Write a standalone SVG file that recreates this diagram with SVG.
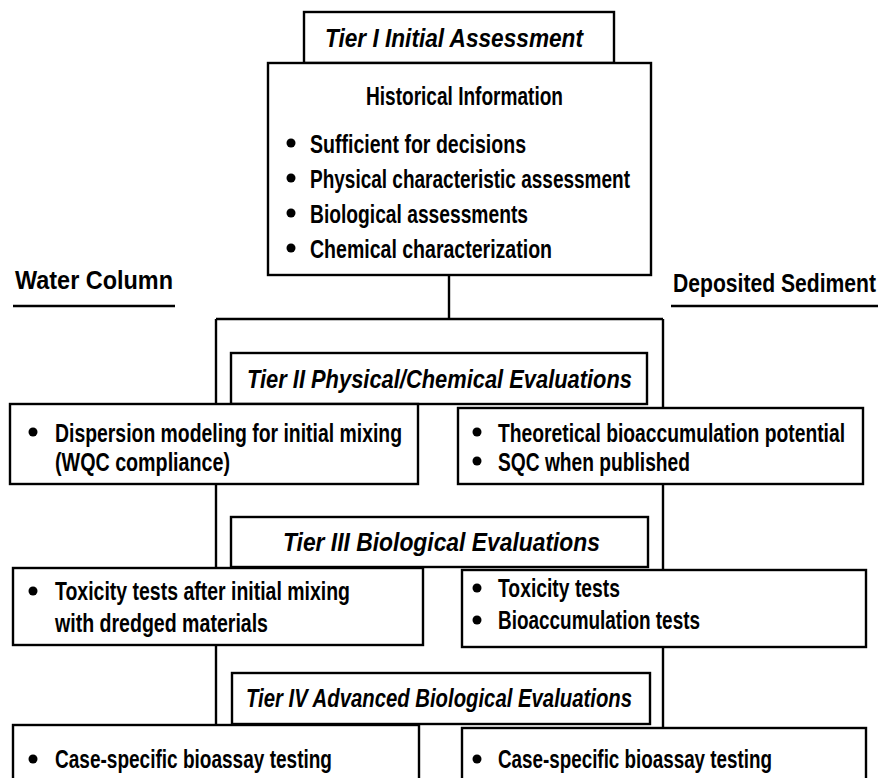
<svg xmlns="http://www.w3.org/2000/svg" width="881" height="778" viewBox="0 0 881 778">
  <style>
    .box { fill: #ffffff; stroke: #000000; stroke-width: 2.4; }
    .wire { fill: none; stroke: #000000; stroke-width: 2.4; }
    .t { font-family: "Liberation Sans", Arial, sans-serif; font-weight: bold; font-size: 25px; fill: #000000; }
    .h { font-style: italic; }
    .dot { fill: #000000; }
  </style>
  <rect width="881" height="778" fill="#ffffff"/>

  <!-- connectors -->
  <g id="connectors">
    <line class="wire" x1="449" y1="275" x2="449" y2="319"/>
    <line class="wire" x1="216" y1="319" x2="663" y2="319"/>
    <line class="wire" x1="216" y1="319" x2="216" y2="404"/>
    <line class="wire" x1="663" y1="319" x2="663" y2="408"/>
    <line class="wire" x1="216" y1="484" x2="216" y2="568"/>
    <line class="wire" x1="663" y1="484" x2="663" y2="570"/>
    <line class="wire" x1="216" y1="645" x2="216" y2="725"/>
    <line class="wire" x1="663" y1="647" x2="663" y2="728"/>
  </g>

  <!-- column labels -->
  <g id="label-water">
    <text class="t" x="15" y="289" textLength="158" lengthAdjust="spacingAndGlyphs">Water Column</text>
    <line class="wire" x1="13" y1="306" x2="175" y2="306"/>
  </g>
  <g id="label-sediment">
    <text class="t" x="673" y="292" textLength="203" lengthAdjust="spacingAndGlyphs">Deposited Sediment</text>
    <line class="wire" x1="671" y1="306" x2="878" y2="306"/>
  </g>

  <!-- Tier I -->
  <g id="tier1">
    <rect class="box" x="304" y="12" width="310" height="51"/>
    <text class="t h" x="325" y="47" textLength="258" lengthAdjust="spacingAndGlyphs">Tier I Initial Assessment</text>
  </g>
  <g id="historical">
    <rect class="box" x="268" y="63" width="383" height="212"/>
    <text class="t" x="366" y="105" textLength="197" lengthAdjust="spacingAndGlyphs">Historical Information</text>
    <circle class="dot" cx="291" cy="143" r="4.5"/>
    <text class="t" x="310" y="153" textLength="216" lengthAdjust="spacingAndGlyphs">Sufficient for decisions</text>
    <circle class="dot" cx="291" cy="178" r="4.5"/>
    <text class="t" x="310" y="188" textLength="320" lengthAdjust="spacingAndGlyphs">Physical characteristic assessment</text>
    <circle class="dot" cx="291" cy="213" r="4.5"/>
    <text class="t" x="310" y="223" textLength="218" lengthAdjust="spacingAndGlyphs">Biological assessments</text>
    <circle class="dot" cx="291" cy="248" r="4.5"/>
    <text class="t" x="310" y="258" textLength="242" lengthAdjust="spacingAndGlyphs">Chemical characterization</text>
  </g>

  <!-- Tier II -->
  <g id="tier2">
    <rect class="box" x="231" y="353" width="416" height="51"/>
    <text class="t h" x="247" y="388" textLength="385" lengthAdjust="spacingAndGlyphs">Tier II Physical/Chemical Evaluations</text>
  </g>
  <g id="water-tier2">
    <rect class="box" x="10" y="404" width="408" height="80"/>
    <circle class="dot" cx="33" cy="432" r="4.5"/>
    <text class="t" x="55" y="442" textLength="347" lengthAdjust="spacingAndGlyphs">Dispersion modeling for initial mixing</text>
    <text class="t" x="55" y="471" textLength="175" lengthAdjust="spacingAndGlyphs">(WQC compliance)</text>
  </g>
  <g id="sediment-tier2">
    <rect class="box" x="458" y="408" width="405" height="76"/>
    <circle class="dot" cx="477" cy="432" r="4.5"/>
    <text class="t" x="498" y="442" textLength="347" lengthAdjust="spacingAndGlyphs">Theoretical bioaccumulation potential</text>
    <circle class="dot" cx="477" cy="461" r="4.5"/>
    <text class="t" x="498" y="471" textLength="192" lengthAdjust="spacingAndGlyphs">SQC when published</text>
  </g>

  <!-- Tier III -->
  <g id="tier3">
    <rect class="box" x="231" y="517" width="417" height="50"/>
    <text class="t h" x="283" y="551" textLength="317" lengthAdjust="spacingAndGlyphs">Tier III Biological Evaluations</text>
  </g>
  <g id="water-tier3">
    <rect class="box" x="13" y="568" width="410" height="77"/>
    <circle class="dot" cx="33" cy="591" r="4.5"/>
    <text class="t" x="55" y="600" textLength="295" lengthAdjust="spacingAndGlyphs">Toxicity tests after initial mixing</text>
    <text class="t" x="55" y="632" textLength="213" lengthAdjust="spacingAndGlyphs">with dredged materials</text>
  </g>
  <g id="sediment-tier3">
    <rect class="box" x="462" y="570" width="404" height="77"/>
    <circle class="dot" cx="477" cy="588" r="4.5"/>
    <text class="t" x="498" y="597" textLength="122" lengthAdjust="spacingAndGlyphs">Toxicity tests</text>
    <circle class="dot" cx="477" cy="620" r="4.5"/>
    <text class="t" x="498" y="629" textLength="202" lengthAdjust="spacingAndGlyphs">Bioaccumulation tests</text>
  </g>

  <!-- Tier IV -->
  <g id="tier4">
    <rect class="box" x="232" y="673" width="418" height="51"/>
    <text class="t h" x="246" y="707" textLength="386" lengthAdjust="spacingAndGlyphs">Tier IV Advanced Biological Evaluations</text>
  </g>
  <g id="water-tier4">
    <rect class="box" x="13" y="725" width="406" height="100"/>
    <circle class="dot" cx="33" cy="759" r="4.5"/>
    <text class="t" x="55" y="768" textLength="277" lengthAdjust="spacingAndGlyphs">Case-specific bioassay testing</text>
  </g>
  <g id="sediment-tier4">
    <rect class="box" x="462" y="728" width="404" height="100"/>
    <circle class="dot" cx="477" cy="759" r="4.5"/>
    <text class="t" x="498" y="768" textLength="274" lengthAdjust="spacingAndGlyphs">Case-specific bioassay testing</text>
  </g>
</svg>
